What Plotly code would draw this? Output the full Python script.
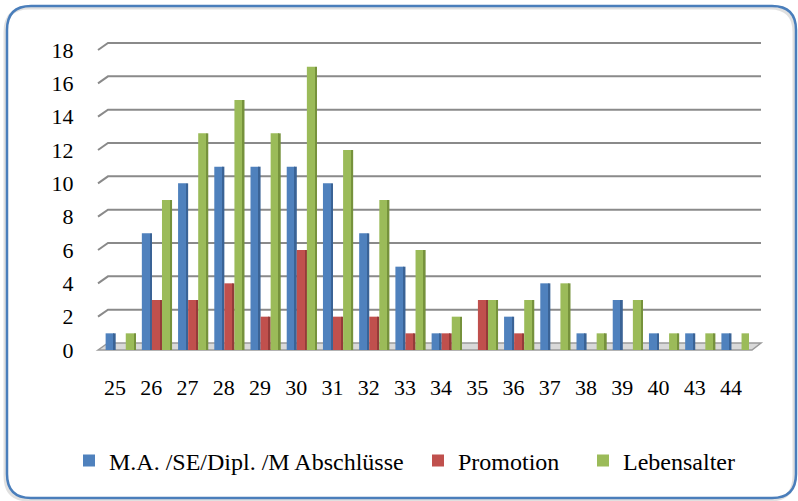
import plotly.graph_objects as go

categories = ["25", "26", "27", "28", "29", "30", "31", "32", "33", "34", "35", "36", "37", "38", "39", "40", "43", "44"]
abschluesse = [1, 7, 10, 11, 11, 11, 10, 7, 5, 1, 0, 2, 4, 1, 3, 1, 1, 1]
promotion = [0, 3, 3, 4, 2, 6, 2, 2, 1, 1, 3, 1, 0, 0, 0, 0, 0, 0]
lebensalter = [1, 9, 13, 15, 13, 17, 12, 9, 6, 2, 3, 3, 4, 1, 3, 1, 1, 1]
series_names = ["M.A. /SE/Dipl. /M Abschlüsse", "Promotion", "Lebensalter"]
y_ticks = [0, 2, 4, 6, 8, 10, 12, 14, 16, 18]

W, H = 798, 501
L, R, T, B = 97, 749, 50, 350
YMAX = 18


def px(x):
    return (x - L) / (R - L)


def py(y):
    return (B - y) / (B - T)


def yv(v):
    return B - v * (B - T) / YMAX


FONT = "Liberation Serif, Times New Roman, serif"
colors = ["#4f81bd", "#c0504d", "#9bbb59"]
side_colors = ["#3a6396", "#943b39", "#76923c"]
offsets = [-0.262, 0.016, 0.294]
front_w = 0.228
side_w = 0.05
legend_ids = ["legend", "legend2", "legend3"]
legend_x = [69, 418, 583]

fig = go.Figure()
for name, vals, c, sc, off, lg in zip(series_names, [abschluesse, promotion, lebensalter],
                                      colors, side_colors, offsets, legend_ids):
    fig.add_trace(go.Bar(x=categories, y=vals, name=name, marker=dict(color=c, line=dict(width=0)),
                         offset=off, width=front_w, hoverinfo="x+y+name", legend=lg))
    fig.add_trace(go.Bar(x=categories, y=vals, name=name, marker=dict(color=sc, line=dict(width=0)),
                         offset=off + front_w, width=side_w, showlegend=False, hoverinfo="skip"))

shapes = []


def rounded(x0, y0, x1, y1, r):
    return (f"M {px(x0 + r)},{py(y0)} L {px(x1 - r)},{py(y0)} "
            f"Q {px(x1)},{py(y0)} {px(x1)},{py(y0 + r)} L {px(x1)},{py(y1 - r)} "
            f"Q {px(x1)},{py(y1)} {px(x1 - r)},{py(y1)} L {px(x0 + r)},{py(y1)} "
            f"Q {px(x0)},{py(y1)} {px(x0)},{py(y1 - r)} L {px(x0)},{py(y0 + r)} "
            f"Q {px(x0)},{py(y0)} {px(x0 + r)},{py(y0)} Z")


# faint shadow + rounded outer border
shapes.append(dict(type="path", xref="paper", yref="paper", path=rounded(5, 8, 794, 500, 24),
                   line=dict(color="rgba(0,0,0,0.12)", width=3), layer="below"))
shapes.append(dict(type="path", xref="paper", yref="paper", path=rounded(7, 6, 796, 498, 24),
                   line=dict(color="#4a7ebb", width=2.5), layer="below"))

# floor
fpath = (f"M {px(98)},{py(B)} L {px(108)},{py(B - 7)} L {px(761)},{py(B - 7)} "
         f"L {px(752)},{py(B)} Z")
shapes.append(dict(type="path", xref="paper", yref="paper", path=fpath,
                   fillcolor="#d9d9d9", line=dict(color="#9a9a9a", width=1.5), layer="below"))

# gridlines with 3D diagonal
for v in y_ticks[1:]:
    yy = yv(v)
    gpath = f"M {px(98)},{py(yy)} L {px(108)},{py(yy - 7)} L {px(761)},{py(yy - 7)}"
    shapes.append(dict(type="path", xref="paper", yref="paper", path=gpath,
                       line=dict(color="#8a8a8a", width=2), layer="below"))

legend_common = dict(orientation="h", xref="container", yref="container",
                     xanchor="left", y=1 - 461 / H, yanchor="middle",
                     font=dict(family=FONT, size=24, color="black"),
                     itemclick=False, bgcolor="rgba(0,0,0,0)")

fig.update_layout(
    width=W, height=H,
    margin=dict(l=L, r=W - R, t=T, b=H - B),
    paper_bgcolor="white", plot_bgcolor="rgba(0,0,0,0)",
    barmode="overlay",
    font=dict(family=FONT, size=22, color="black"),
    shapes=shapes,
    showlegend=True,
    legend=dict(x=legend_x[0] / W, **legend_common),
    legend2=dict(x=legend_x[1] / W, **legend_common),
    legend3=dict(x=legend_x[2] / W, **legend_common),
    xaxis=dict(type="category", categoryorder="array", categoryarray=categories,
               range=[-0.5, len(categories) - 0.5], showgrid=False, zeroline=False,
               showline=False, ticks="outside", ticklen=18, tickcolor="rgba(0,0,0,0)",
               tickfont=dict(family=FONT, size=22, color="black")),
    yaxis=dict(range=[0, YMAX], tickvals=y_ticks, showgrid=False, zeroline=False,
               showline=False, ticks="outside", ticklen=18, tickcolor="rgba(0,0,0,0)",
               tickfont=dict(family=FONT, size=22, color="black")),
)

fig.write_html("out.html", config={"displayModeBar": False},
               post_script="document.body.style.margin='0';document.body.style.overflow='hidden';")
